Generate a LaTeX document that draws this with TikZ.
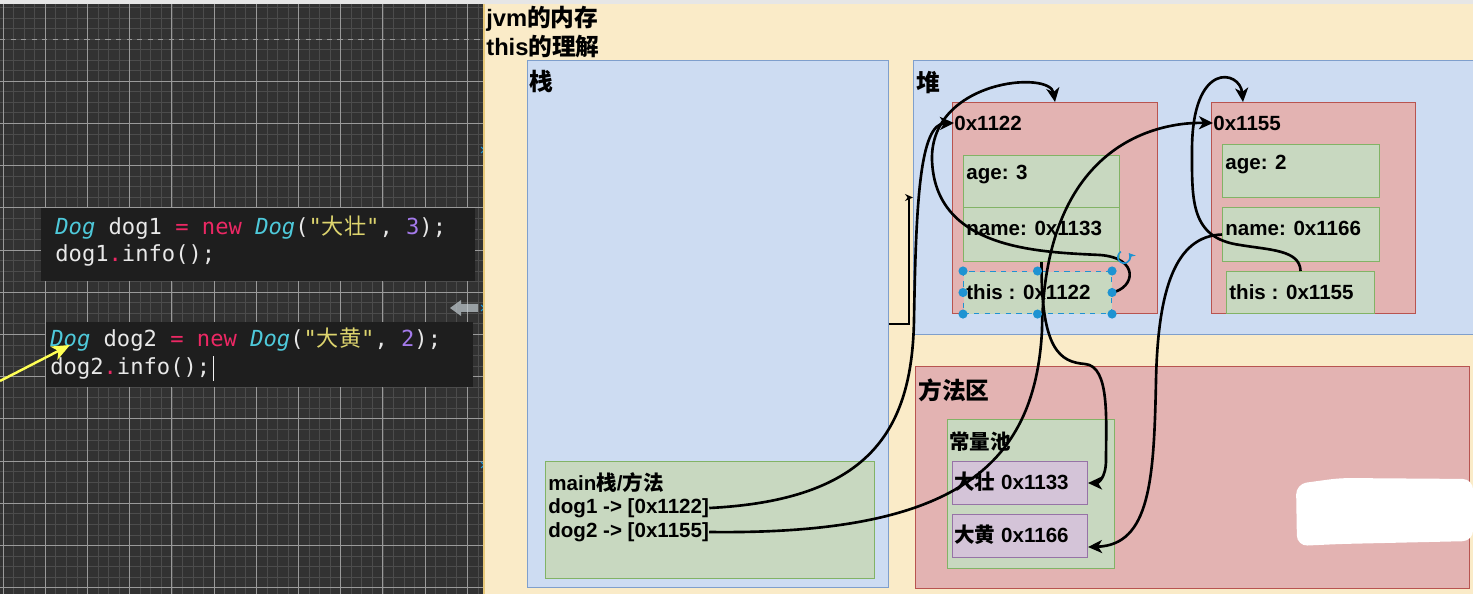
\documentclass[tikz,border=0pt]{standalone}
\usepackage{fontspec}
\setmainfont{Liberation Sans}
\newfontfamily\cjk{Noto Sans CJK SC}
\newfontfamily\codefont{DejaVu Sans Mono}
\usetikzlibrary{positioning,arrows.meta}

\definecolor{topstrip}{HTML}{E6E6E6}
\definecolor{gridbg}{HTML}{323232}
\definecolor{gridline}{HTML}{4C4C4C}
\definecolor{gridbright}{HTML}{9A9A9A}
\definecolor{codebg}{HTML}{1E1E1E}
\definecolor{codewhite}{HTML}{E8E8E8}
\definecolor{codecyan}{HTML}{4EC9DA}
\definecolor{codepink}{HTML}{EC2864}
\definecolor{codepurple}{HTML}{A47AEB}
\definecolor{codeyellow}{HTML}{DDD46E}
\definecolor{ptryellow}{HTML}{FFFF55}
\definecolor{cream}{HTML}{FAEBC8}
\definecolor{creamedge}{HTML}{E8C97A}
\definecolor{areafill}{HTML}{CDDCF2}
\definecolor{arealine}{HTML}{7F9FCC}
\definecolor{redfill}{HTML}{E3B3B2}
\definecolor{redline}{HTML}{B85450}
\definecolor{greenfill}{HTML}{C8D8C0}
\definecolor{greenline}{HTML}{82B366}
\definecolor{purplefill}{HTML}{D4C4D8}
\definecolor{purpleline}{HTML}{9673A6}
\definecolor{selblue}{HTML}{1E93D2}

\newcommand{\zh}[1]{{\cjk #1}}
\newcommand{\codety}[1]{\textcolor{codecyan}{\itshape #1}}
\newcommand{\codekw}[1]{\textcolor{codepink}{#1}}
\newcommand{\codenum}[1]{\textcolor{codepurple}{#1}}
\newcommand{\codestr}[1]{\textcolor{codeyellow}{#1}}

\begin{document}
\begin{tikzpicture}[
    x=0.02cm, y=-0.02cm,
    font=\fontsize{11.7}{14}\selectfont\bfseries,
    >={Stealth[length=2.8mm, width=2.6mm, inset=0.8mm]},
    basebox/.style={anchor=north west, inner sep=0pt, line width=0.6pt},
    area/.style={basebox, draw=arealine, fill=areafill},
    objbox/.style={basebox, draw=redline, fill=redfill},
    field/.style={basebox, draw=greenline, fill=greenfill},
    strbox/.style={basebox, draw=purpleline, fill=purplefill},
    codebox/.style={basebox, fill=codebg},
    txt/.style={anchor=west, inner sep=0pt},
    head/.style={txt, font=\fontsize{13.5}{16}\selectfont\bfseries},
    code/.style={txt, font=\codefont\fontsize{12.6}{15}\selectfont, text=codewhite},
    gridminor/.style={draw=gridline, line width=0.4pt},
    gridmajor/.style={draw=gridbright, line width=0.5pt},
    ref/.style={->, line width=1.5pt},
    pointer/.style={draw=ptryellow, line width=1.4pt, -{Stealth[length=3.6mm, width=3mm, inset=1mm]}},
  ]
    \useasboundingbox (0,0) rectangle (1473,594);

    % ---------- editor ----------
    \fill[topstrip] (0,0) rectangle (1473,4);
    \begin{scope}
      \clip (0,4) rectangle (483,594);
      \fill[gridbg] (0,4) rectangle (483,594);
      \foreach \i in {0,...,46} \draw[gridminor] ({3.1+10.55*\i},4) -- ({3.1+10.55*\i},594);
      \foreach \j in {0,...,57} \draw[gridminor] (0,{-3.2+10.55*\j}) -- (483,{-3.2+10.55*\j});
      \foreach \i in {0,...,11} \draw[gridmajor] ({3.1+42.2*\i},4) -- ({3.1+42.2*\i},594);
      \foreach \j in {2,...,14} \draw[gridmajor] (0,{-3.2+42.2*\j}) -- (483,{-3.2+42.2*\j});
      \draw[gridmajor, dashed] (0,39) -- (483,39);
    \end{scope}

    \node[codebox, minimum width=8.70cm, minimum height=1.46cm] (codeA) at (40,207) {};
    \node[codebox, minimum width=8.56cm, minimum height=1.30cm] (codeB) at (45,321) {};
    \node[code] (line1) at (55,228) {\codety{Dog} dog1 \codekw{=} \codekw{new} \codety{Dog}(\codestr{"\zh{大壮}"}, \codenum{3});};
    \node[code] (line2) at (55,255) {dog1\codekw{.}info();};
    \node[code] (line3) at (50,340) {\codety{Dog} dog2 \codekw{=} \codekw{new} \codety{Dog}(\codestr{"\zh{大黄}"}, \codenum{2});};
    \node[code] (line4) at (50,368) {dog2\codekw{.}info();};
    \draw[codewhite!60, line width=0.6pt] (line4.east) ++(3,-12) -- ++(0,25);

    \coordinate (ptrfrom) at (0,381);
    \coordinate (ptrto) at (70,345);
    \draw[pointer] (ptrfrom) -- (ptrto);

    \fill[selblue!20!gray!40, opacity=0.7] (450,308) -- (461,300) -- (461,304) -- (478,304)
      -- (478,312) -- (461,312) -- (461,316) -- cycle;
    \foreach \y in {150,308,465}
      \draw[selblue, line width=0.6pt] (481,\y-3) -- (487,\y+3) (481,\y+3) -- (487,\y-3);

    % ---------- jvm memory ----------
    \fill[cream] (484,4) rectangle (1473,594);
    \draw[creamedge, line width=1pt] (484,4) -- (484,594);
    \node[head] (title1) at (486,19) {jvm\zh{的内存}};
    \node[head] (title2) at (486,47) {this\zh{的理解}};

    \node[area, minimum width=7.22cm, minimum height=10.54cm] (stack) at (527,60) {};
    \node[area, minimum width=11.40cm, minimum height=5.48cm] (heap) at (913,60) {};
    \node[objbox, minimum width=11.08cm, minimum height=4.44cm] (method) at (915,366) {};
    \node[head] (stacklbl) at (529,82) {\zh{栈}};
    \node[head] (heaplbl) at (916,83) {\zh{堆}};
    \node[head] (methodlbl) at (918,390) {\zh{方法区}};
    \draw[line width=0.6pt, -{Stealth[length=1.6mm, width=1.4mm]}] (stack.east) -- ++(20,0) |- (heap.west);

    % objects in the heap
    \node[objbox, minimum width=4.10cm, minimum height=4.22cm] (obj1) at (952,102) {};
    \node[objbox, minimum width=4.08cm, minimum height=4.22cm] (obj2) at (1211,102) {};
    \node[txt] (obj1lbl) at (954,123) {0x1122};
    \node[txt] (obj2lbl) at (1213,123) {0x1155};
    \node[field, minimum width=3.12cm, minimum height=1.04cm] (age1) at (963,155) {};
    \node[field, minimum width=3.12cm, minimum height=1.08cm] (name1) at (963,207) {};
    \node[field, draw=selblue, dashed, minimum width=2.96cm, minimum height=0.84cm] (this1) at (963,271) {};
    \node[field, minimum width=3.14cm, minimum height=1.06cm] (age2) at (1222,144) {};
    \node[field, minimum width=3.14cm, minimum height=1.08cm] (name2) at (1222,207) {};
    \node[field, minimum width=2.96cm, minimum height=0.84cm] (this2) at (1226,271) {};
    \node[txt] (age1txt) at (966,175) {age: 3};
    \node[txt] (name1txt) at (966,228) {name: 0x1133};
    \node[txt] (this1txt) at (966,292) {this : 0x1122};
    \node[txt] (age2txt) at (1225,165) {age: 2};
    \node[txt] (name2txt) at (1225,228) {name: 0x1166};
    \node[txt] (this2txt) at (1229,292) {this : 0x1155};

    % constant pool
    \node[field, minimum width=3.34cm, minimum height=2.98cm] (pool) at (947,419) {};
    \node[txt] (poollbl) at (949,442) {\zh{常量池}};
    \node[strbox, minimum width=2.70cm, minimum height=0.86cm] (str1) at (952,461) {};
    \node[strbox, minimum width=2.70cm, minimum height=0.86cm] (str2) at (952,514) {};
    \node[txt] (str1txt) at (954,482) {\zh{大壮} 0x1133};
    \node[txt] (str2txt) at (954,535) {\zh{大黄} 0x1166};

    % main frame
    \node[field, minimum width=6.58cm, minimum height=2.34cm] (mainf) at (545,461) {};
    \node[txt] (mainlbl) at (548,483) {main\zh{栈}/\zh{方法}};
    \node[txt] (dog1ref) at (548,508) {dog1 -> [0x1122]};
    \node[txt] (dog2ref) at (548,532) {dog2 -> [0x1155]};

    % ---------- references ----------
    \draw[ref] (dog1ref.east) .. controls (870,500) and (912,430) .. (914,320)
      .. controls (916,200) and (920,124) .. (obj1lbl.west);
    \draw[ref] (dog2ref.east) .. controls (950,535) and (1035,470) .. (1042,330)
      .. controls (1044,150) and (1150,122) .. (obj2lbl.west);
    \draw[ref] (name1.south) .. controls (1041,350) and (1060,362) .. (1085,364)
      .. controls (1110,366) and (1106,420) .. (1106,460)
      .. controls (1106,478) and (1098,483) .. (str1.east);
    \draw[ref] (this1.east) .. controls (1135,288) and (1140,258) .. (1100,255)
      .. controls (1040,252) and (935,250) .. (932,160)
      .. controls (930,80) and (1050,70) .. (obj1.north);
    \draw[ref] (this2.north) .. controls (1300,250) and (1270,250) .. (1240,245)
      .. controls (1190,238) and (1192,200) .. (1192,150)
      .. controls (1192,60) and (1240,70) .. ([xshift=0.64cm]obj2.north west);
    \draw[ref] (name2.west) .. controls (1175,236) and (1158,290) .. (1156,380)
      .. controls (1154,480) and (1150,545) .. ([yshift=-0.22cm]str2.east);

    % selection handles
    \foreach \a in {north west,north,north east,west,east,south west,south,south east}
      \fill[selblue] (this1.\a) circle (2.6pt);
    \draw[selblue, line width=0.9pt, -{Stealth[length=1.3mm, width=1.5mm]}]
      (1124,257) ++(120:3.5pt) arc[start angle=120, end angle=400, radius=3.5pt];

    \fill[white, rounded corners=6pt] (1296,484) -- (1340,478) -- (1473,479)
      -- (1473,541) -- (1340,544) -- (1297,546) -- cycle;
  \end{tikzpicture}
\end{document}
